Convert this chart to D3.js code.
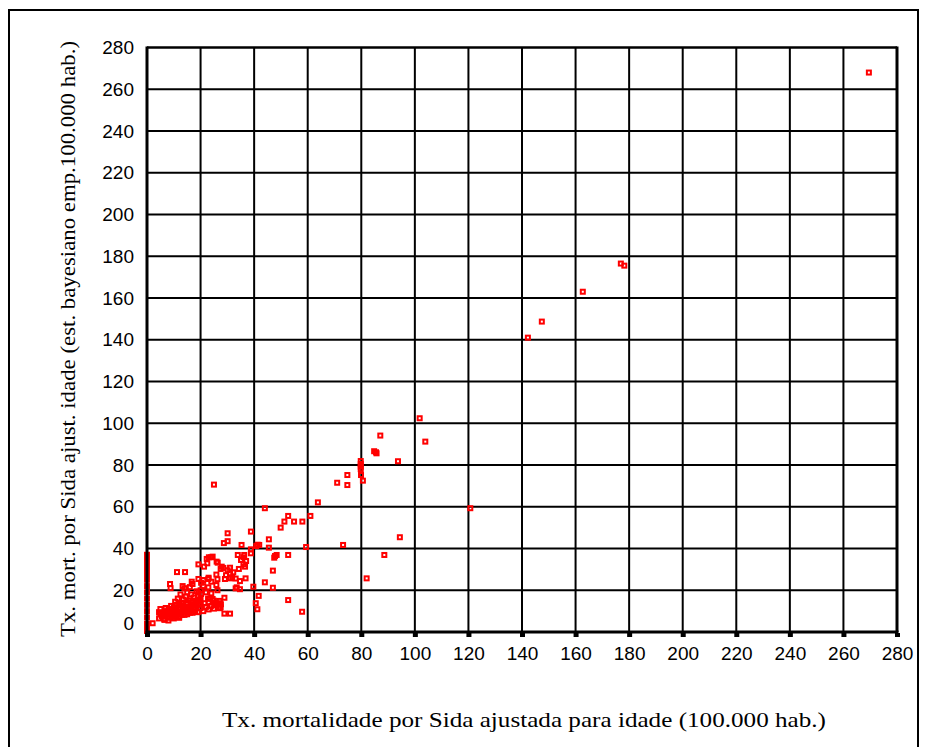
<!DOCTYPE html>
<html>
<head>
<meta charset="utf-8">
<script src="https://cdn.jsdelivr.net/npm/d3@7"></script>
<style>
  html, body { margin: 0; padding: 0; background: #fff; }
  svg { display: block; }
</style>
</head>
<body>
<div id="chart"></div>
<script>
// Sida mortality: crude age-adjusted rate vs empirical Bayes estimate (per 100.000)

const xTicks = [0, 20, 40, 60, 80, 100, 120, 140, 160, 180, 200, 220, 240, 260, 280];
const yTicks = [0, 20, 40, 60, 80, 100, 120, 140, 160, 180, 200, 220, 240, 260, 280];

const xTitle = 'Tx. mortalidade por Sida ajustada para idade (100.000 hab.)';
const yTitle = 'Tx. mort. por Sida ajust. idade (est. bayesiano emp.100.000 hab.)';

const ratesObs = [
  // x = 0 column
  0, 0, 0, 0, 0, 0, 0, 0, 0, 0, 0, 0, 0, 0, 0, 0, 2.1,
  // dense blob
  4.5, 5.5, 6.5, 7, 8, 9, 10, 11, 12, 13, 6, 7.5, 9.5, 10.5, 12, 14, 15, 16, 17, 18,
  19, 20, 21, 22, 23, 24, 25, 26, 27.5, 19.5, 18, 17, 16, 15, 14, 13, 12, 11, 10, 9,
  8, 7, 4.5, 5, 13.5, 14.5, 15.5, 16.5, 17.5, 18.5, 15, 14, 16, 17, 12.5, 11.5, 10.5, 19,
  20, 21, 22, 23.5, 25, 26.5, 24, 12, 16, 18, 20, 6.7, 8.5, 11, 13.5,
  5, 6, 7, 8.5, 9.5, 10.5, 11.5, 12.5, 13.5, 14.5, 15.5, 16.5, 17.5, 18.5, 9, 11, 13, 15, 17, 19,
  6.5, 8, 10, 12, 14, 16, 18, 21.5, 23, 24.5,
  // lower-left scatter
  11.2, 14.2, 8.6, 8.8, 16.7, 19.2, 22.9, 13.3,
  19.2, 21.3, 22.3, 22.5, 23.9, 24.5, 23.1, 26, 26.4, 27.9, 27.5, 28.5, 25.9, 26.3, 23, 21,
  20.2, 24, 22.9, 25.9, 26.3, 29.5, 30.1, 31, 31, 31.8, 29.1, 31, 32.2, 34.3, 36.6, 36,
  37, 35.1, 33.9, 36.3, 36.8, 34.7, 33.1, 33.5, 34.7, 33.1, 39.7, 44, 47, 47, 41.7, 40.6,
  41.2, 52.7, 28.9, 27.2, 27.2, 28.9, 31, 19.2, 20.2, 20, 19.4, 22.8, 25.1, 27.2, 27.6, 26.8,
  // mid range
  25, 44, 30.1, 38.8, 28.7, 30.1, 35.3, 41.3, 41.9, 40.8, 45.5, 45.5, 38.8, 38.8, 36, 47.8,
  48.4, 52.7, 47.5, 49.9, 51.3, 52.7, 54.9, 58, 61, 63.8, 59.4, 57.9,
  // upper range
  71, 74.8, 74.8, 73.2, 79.8, 79.8, 79.8, 79.8, 79.9, 80.6, 82, 84.8, 85.5, 85.7, 87.1, 88.6,
  93.7, 94.4, 101.8, 103.9, 120.7, 142.2, 147.4, 162.7, 176.9, 178.2, 269.5
];
const ratesBayes = [
  37, 35, 33, 31, 29, 27, 25, 22, 19, 16, 13, 10, 7, 4, 2, 0.5, 4.2,
  6.5, 7.5, 6.2, 8, 6.8, 7.5, 6.5, 7.8, 6.8, 8.2, 9, 10, 9, 10.2, 9.5, 9.8, 8.5, 10.3, 9.2, 10.8,
  9.5, 11.5, 10, 12, 10.8, 12.5, 11.2, 12.8, 11.8, 13.5, 12.5, 14, 12.2, 13.8, 11.5, 12.8, 11.2, 13, 11.8, 12.5,
  10.8, 11.5, 9.5, 11, 15.5, 17, 15, 18, 16.5, 19.5, 19, 21, 21.5, 23, 18, 16, 14.5, 17.5,
  20, 22, 19, 16, 15, 13.5, 18.5, 13.5, 16, 15, 13, 7.3, 8.5, 9.2, 10.5,
  8.5, 7.8, 9.5, 9, 8, 8.8, 10, 9.2, 10.8, 11.8, 10.5, 12.5, 11.5, 13.5, 11, 11.5, 14, 12, 13, 14.5,
  5.8, 5.5, 7.2, 7.5, 8.2, 9.2, 9.8, 13.8, 14.2, 15.8,
  28.7, 28.7, 23, 21, 24.1, 25.4, 25.4, 22,
  32.4, 31.3, 35, 32.9, 35.8, 36.1, 35.8, 33.7, 33.2, 31.3, 30.2, 30.7, 27.5, 25.3, 26, 24.9,
  23.6, 24.1, 21.4, 22.5, 20, 27.2, 29.6, 30.8, 28.1, 26, 25.4, 25.7, 28.6, 30.2, 31.3, 32.4,
  34, 34.5, 36.9, 36.9, 25.7, 24.4, 25.6, 21.4, 20.5, 20.9, 21.7, 23.8, 21.2, 29.4, 17.3, 13.8,
  10.9, 15.3, 16.4, 13.8, 11.4, 8.8, 8.8, 18.8, 18.2, 15.8, 15.3, 16, 13.8, 14.9, 13.3, 11.5,
  70.6, 59.3, 47.3, 48.1, 42.6, 43.5, 41.7, 41.8, 41.7, 41.2, 44.4, 40.4, 39.6, 37.7, 35.8, 36.4,
  36.9, 36.9, 35.6, 50, 52.9, 55.6, 52.9, 52.9, 55.6, 62.1, 40.7, 9.7,
  71.5, 75.2, 70.4, 41.7, 81.9, 80.5, 79.2, 78, 75.2, 72.5, 25.7, 86.6, 86.1, 85.6, 94.1, 36.9,
  81.8, 45.4, 102.4, 91.2, 59.3, 141, 148.7, 163, 176.5, 175.5, 268
];

const W = 927, H = 747;
const svg = d3.select('#chart').append('svg')
  .attr('width', W)
  .attr('height', H);

// outer frame
svg.append('rect')
  .attr('x', 9).attr('y', 10)
  .attr('width', 909).attr('height', 760)
  .attr('fill', 'none')
  .attr('stroke', '#000')
  .attr('stroke-width', 2);

const x = d3.scaleLinear().domain([0, 280]).range([147, 897]);
const y = d3.scaleLinear().domain([0, 280]).range([632, 47.5]);

// grid
const grid = svg.append('g');
grid.selectAll('line.v')
  .data(xTicks.slice(1, -1))
  .join('line')
  .attr('x1', d => x(d)).attr('x2', d => x(d))
  .attr('y1', y(280)).attr('y2', y(0))
  .attr('stroke', '#000').attr('stroke-width', 2);
grid.selectAll('line.h')
  .data(yTicks.slice(1, -1))
  .join('line')
  .attr('y1', d => y(d)).attr('y2', d => y(d))
  .attr('x1', x(0)).attr('x2', x(280))
  .attr('stroke', '#000').attr('stroke-width', 2);

// plot frame: top/right thinner, left/bottom axis thicker
svg.append('line')
  .attr('x1', x(0)).attr('x2', x(280)).attr('y1', y(280)).attr('y2', y(280))
  .attr('stroke', '#000').attr('stroke-width', 2.5);
svg.append('line')
  .attr('x1', x(280)).attr('x2', x(280)).attr('y1', y(280) - 1).attr('y2', y(0))
  .attr('stroke', '#000').attr('stroke-width', 3);

// points (hollow squares)
const pts = ratesObs.map((v, i) => ({ x: v, y: ratesBayes[i] }));
svg.append('g')
  .selectAll('rect')
  .data(pts)
  .join('rect')
  .attr('x', d => x(d.x) - 2)
  .attr('y', d => y(d.y) - 2)
  .attr('width', 4).attr('height', 4)
  .attr('fill', 'none')
  .attr('stroke', '#ff0000')
  .attr('stroke-width', 2);

// axes
const xAxis = svg.append('g')
  .attr('transform', `translate(0,${y(0)})`)
  .call(d3.axisBottom(x).tickValues(xTicks).tickSize(0).tickPadding(15));
xAxis.select('.domain').attr('stroke', '#000').attr('stroke-width', 3)
  .attr('d', `M${x(0) - 1.5},0H${x(280) + 1.5}`);
xAxis.selectAll('text')
  .attr('font-family', 'Liberation Sans, Arial, sans-serif')
  .attr('font-size', 19)
  .attr('fill', '#000');
// small square tick marks under the axis
xAxis.selectAll('.tick').append('rect')
  .attr('x', -2.5).attr('y', 1).attr('width', 5).attr('height', 4)
  .attr('fill', '#000');

const yAxis = svg.append('g')
  .attr('transform', `translate(${x(0)},0)`)
  .call(d3.axisLeft(y).tickValues(yTicks).tickSize(0).tickPadding(13));
yAxis.select('.domain').attr('stroke', '#000').attr('stroke-width', 3)
  .attr('d', `M0,${y(280) - 1}V${y(0) + 1.5}`);
yAxis.selectAll('text')
  .attr('font-family', 'Liberation Sans, Arial, sans-serif')
  .attr('font-size', 19)
  .attr('fill', '#000');
// the zero label sits a bit above its tick
yAxis.selectAll('.tick').filter(d => d === 0).select('text').attr('dy', '-0.15em');

// titles
svg.append('text')
  .attr('x', 524).attr('y', 727)
  .attr('text-anchor', 'middle')
  .attr('font-family', 'Liberation Serif, Times New Roman, serif')
  .attr('font-size', 22)
  .attr('textLength', 604)
  .attr('lengthAdjust', 'spacingAndGlyphs')
  .text(xTitle);

svg.append('text')
  .attr('transform', `translate(75,${339}) rotate(-90)`)
  .attr('text-anchor', 'middle')
  .attr('font-family', 'Liberation Serif, Times New Roman, serif')
  .attr('font-size', 22)
  .attr('textLength', 596)
  .attr('lengthAdjust', 'spacingAndGlyphs')
  .text(yTitle);
</script>
</body>
</html>
